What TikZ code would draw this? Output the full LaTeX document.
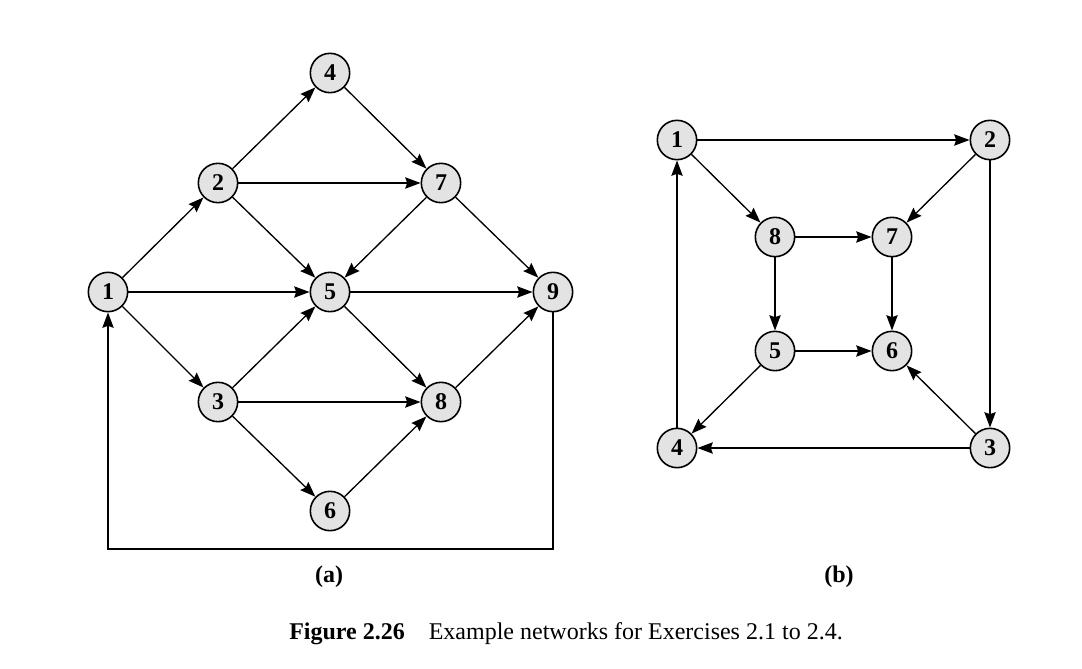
\documentclass[tikz,border=0pt]{standalone}
\usepackage{fontspec}
\setmainfont{Liberation Serif}
\usetikzlibrary{arrows.meta}
\begin{document}
\begin{tikzpicture}[x=0.75pt,y=-0.75pt,
  vtx/.style={circle,draw,line width=1.2pt,fill=gray!22,minimum size=29.5pt,inner sep=0pt,
    font=\fontsize{18}{21}\selectfont\bfseries},
  arc/.style={line width=1pt,-{Stealth[length=11.5pt,width=8.5pt,inset=1.5pt]}},
  lbl/.style={font=\fontsize{18}{21}\selectfont\bfseries},
  captxt/.style={font=\fontsize{18}{21}\selectfont}]
\useasboundingbox (0,0) rectangle (1082,668);
% graph (a)
\node[vtx] (a1) at (108,292) {1};
\node[vtx] (a2) at (218,183) {2};
\node[vtx] (a3) at (218,402) {3};
\node[vtx] (a4) at (330,73) {4};
\node[vtx] (a5) at (330,292) {5};
\node[vtx] (a6) at (330,511) {6};
\node[vtx] (a7) at (441,183) {7};
\node[vtx] (a8) at (441,402) {8};
\node[vtx] (a9) at (553,292) {9};
\coordinate (r9) at (553,549);
\coordinate (r1) at (108,549);
\draw[arc] (a1) -- (a2);
\draw[arc] (a1) -- (a5);
\draw[arc] (a1) -- (a3);
\draw[arc] (a2) -- (a4);
\draw[arc] (a2) -- (a7);
\draw[arc] (a2) -- (a5);
\draw[arc] (a4) -- (a7);
\draw[arc] (a7) -- (a5);
\draw[arc] (a7) -- (a9);
\draw[arc] (a3) -- (a5);
\draw[arc] (a3) -- (a8);
\draw[arc] (a3) -- (a6);
\draw[arc] (a5) -- (a9);
\draw[arc] (a5) -- (a8);
\draw[arc] (a6) -- (a8);
\draw[arc] (a8) -- (a9);
\draw[arc] (a9) -- (r9) -- (r1) -- (a1);
% graph (b)
\node[vtx] (b1) at (677,140) {1};
\node[vtx] (b2) at (990,140) {2};
\node[vtx] (b8) at (775,237) {8};
\node[vtx] (b7) at (892,237) {7};
\node[vtx] (b5) at (775,351) {5};
\node[vtx] (b6) at (892,351) {6};
\node[vtx] (b4) at (677,448) {4};
\node[vtx] (b3) at (990,448) {3};
\draw[arc] (b1) -- (b2);
\draw[arc] (b1) -- (b8);
\draw[arc] (b2) -- (b7);
\draw[arc] (b2) -- (b3);
\draw[arc] (b8) -- (b7);
\draw[arc] (b8) -- (b5);
\draw[arc] (b7) -- (b6);
\draw[arc] (b5) -- (b6);
\draw[arc] (b5) -- (b4);
\draw[arc] (b3) -- (b6);
\draw[arc] (b3) -- (b4);
\draw[arc] (b4) -- (b1);
% labels
\node[lbl] (la) at (329,577) {(a)};
\node[lbl] (lb) at (839,577) {(b)};
\node[captxt] (caption) at (566,634) {\textbf{Figure 2.26}\quad Example networks for Exercises 2.1 to 2.4.};
\end{tikzpicture}
\end{document}
